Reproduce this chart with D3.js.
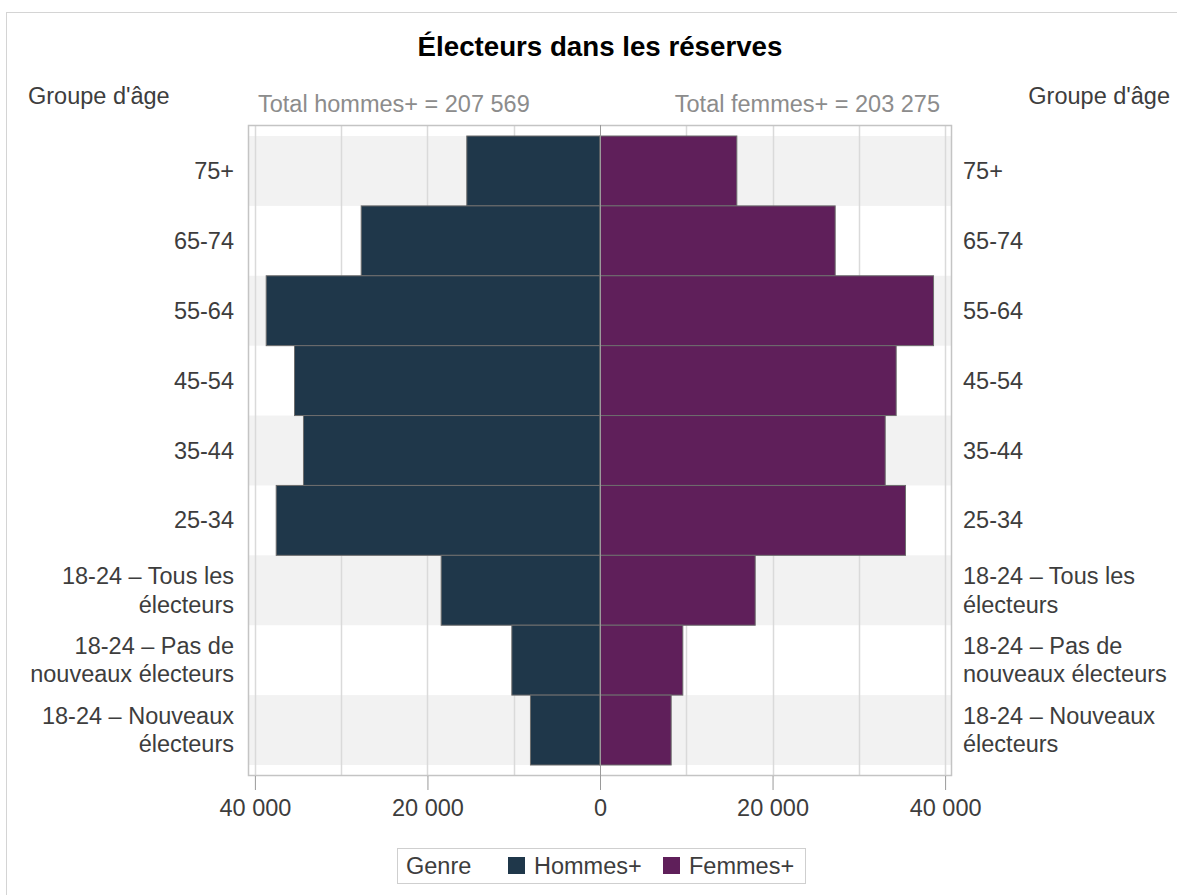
<!DOCTYPE html>
<html><head><meta charset="utf-8">
<script src="https://cdn.jsdelivr.net/npm/d3@7"></script>
<style>
html,body{margin:0;padding:0;background:#fff;}
text{font-family:"Liberation Sans",Arial,sans-serif;}
</style></head>
<body>
<svg id="chart" width="1177" height="895"></svg>
<script>
// ---- data ----
const categories = ["75+","65-74","55-64","45-54","35-44","25-34",
  "18-24 – Tous les électeurs","18-24 – Pas de nouveaux électeurs","18-24 – Nouveaux électeurs"];
const categoryLines = [["75+"],["65-74"],["55-64"],["45-54"],["35-44"],["25-34"],
  ["18-24 – Tous les","électeurs"],["18-24 – Pas de","nouveaux électeurs"],["18-24 – Nouveaux","électeurs"]];
const hommes = [15440, 27680, 38690, 35410, 34370, 37530, 18410, 10220, 8060];
const femmes = [15860, 27260, 38660, 34330, 33060, 35410, 17990, 9600, 8250];
const tickValues = [-40000, -20000, 0, 20000, 40000];
const gridValues = [-40000, -30000, -20000, -10000, 10000, 20000, 30000, 40000];
const seriesNames = ["Hommes+", "Femmes+"];
const totals = ["Total hommes+ = 207 569", "Total femmes+ = 203 275"];
const colors = ["#1f374a", "#5f1f5a"];

// ---- layout ----
const svg = d3.select("#chart");
const frame = {x0: 248, x1: 952, y0: 125, y1: 776};
const x = d3.scaleLinear().domain([-40800, 40800]).range([frame.x0, frame.x1]);
const y = d3.scaleBand().domain(categories).range([136, 765]).padding(0);
const loc = d3.formatLocale({decimal: ",", thousands: " ", grouping: [3], currency: ["", ""]});
const fmt = loc.format(",d");
const FS = 23.5;
const TXT = "#3d3d3d";

// outer border
svg.append("rect").attr("x", 6.5).attr("y", 12.5).attr("width", 1200).attr("height", 900)
  .attr("fill", "none").attr("stroke", "#d4d4d4");

// bands
svg.append("g").selectAll("rect").data(categories.filter((d, i) => i % 2 === 0)).join("rect")
  .attr("x", frame.x0 + 1).attr("width", frame.x1 - frame.x0 - 2)
  .attr("y", d => y(d)).attr("height", y.bandwidth())
  .attr("fill", "#f2f2f2");

// gridlines
svg.append("g").selectAll("line").data(gridValues).join("line")
  .attr("x1", d => Math.round(x(d)) + 0.5).attr("x2", d => Math.round(x(d)) + 0.5)
  .attr("y1", frame.y0).attr("y2", frame.y1)
  .attr("stroke", "#dadada").attr("stroke-width", 1.5);

// bars
const bars = svg.append("g");
bars.selectAll("rect.h").data(categories).join("rect").attr("class", "h")
  .attr("x", (d, i) => x(-hommes[i])).attr("width", (d, i) => x(0) - x(-hommes[i]))
  .attr("y", d => y(d)).attr("height", y.bandwidth())
  .attr("fill", colors[0]).attr("stroke", "#6d6d6d").attr("stroke-width", 1);
bars.selectAll("rect.f").data(categories).join("rect").attr("class", "f")
  .attr("x", x(0)).attr("width", (d, i) => x(femmes[i]) - x(0))
  .attr("y", d => y(d)).attr("height", y.bandwidth())
  .attr("fill", colors[1]).attr("stroke", "#6d6d6d").attr("stroke-width", 1);

// frame
svg.append("rect").attr("x", frame.x0 + 0.5).attr("y", frame.y0 + 0.5)
  .attr("width", frame.x1 - frame.x0 - 1).attr("height", frame.y1 - frame.y0 - 1)
  .attr("fill", "none").attr("stroke", "#c4c4c4").attr("stroke-width", 1.5);

// zero line
svg.append("line").attr("x1", Math.round(x(0)) + 0.5).attr("x2", Math.round(x(0)) + 0.5)
  .attr("y1", frame.y0).attr("y2", frame.y1 + 14)
  .attr("stroke", "#9a9a9a").attr("stroke-width", 1);

// x axis
const ax = svg.append("g").attr("transform", `translate(0,${frame.y1})`)
  .call(d3.axisBottom(x).tickValues(tickValues).tickSize(14).tickPadding(9)
    .tickFormat(d => fmt(Math.abs(d))));
ax.select(".domain").remove();
ax.selectAll(".tick line").attr("stroke", "#9a9a9a");
ax.selectAll(".tick text").attr("fill", TXT).style("font-size", FS + "px")
  .style("font-family", "'Liberation Sans', Arial, sans-serif");

// category labels left & right
function catLabels(xPos, anchor) {
  const g = svg.append("g");
  const t = g.selectAll("text").data(categories).join("text")
    .attr("text-anchor", anchor).attr("fill", TXT).style("font-size", FS + "px");
  t.each(function(d, i) {
    const lines = categoryLines[i];
    const cy = y(d) + y.bandwidth() / 2;
    const lh = 28.5;
    const startY = cy - (lines.length - 1) * lh / 2 + 8;
    d3.select(this).selectAll("tspan").data(lines).join("tspan")
      .attr("x", xPos).attr("y", (l, k) => startY + k * lh).text(l => l);
  });
}
catLabels(234, "end");
catLabels(963, "start");

// axis titles
svg.append("text").attr("x", 28).attr("y", 104).attr("fill", TXT)
  .style("font-size", FS + "px").text("Groupe d'âge");
svg.append("text").attr("x", 1170).attr("y", 104).attr("text-anchor", "end").attr("fill", TXT)
  .style("font-size", FS + "px").text("Groupe d'âge");

// totals
svg.append("text").attr("x", 258).attr("y", 112).attr("fill", "#8c8c8c")
  .style("font-size", FS + "px").text(totals[0]);
svg.append("text").attr("x", 940).attr("y", 112).attr("text-anchor", "end").attr("fill", "#8c8c8c")
  .style("font-size", FS + "px").text(totals[1]);

// title
svg.append("text").attr("x", 600).attr("y", 56).attr("text-anchor", "middle").attr("fill", "#000")
  .style("font-size", "27.7px").style("font-weight", "bold").text("Électeurs dans les réserves");

// legend
const lg = svg.append("g");
lg.append("rect").attr("x", 397.5).attr("y", 848.5).attr("width", 408).attr("height", 35)
  .attr("fill", "#fff").attr("stroke", "#cfcfcf");
lg.append("text").attr("x", 406).attr("y", 874).attr("fill", TXT)
  .style("font-size", FS + "px").text("Genre");
const legX = [508, 663];
seriesNames.forEach((s, i) => {
  lg.append("rect").attr("x", legX[i]).attr("y", 857).attr("width", 17).attr("height", 17)
    .attr("fill", colors[i]);
  lg.append("text").attr("x", legX[i] + 26).attr("y", 874).attr("fill", TXT)
    .style("font-size", FS + "px").text(s);
});
</script>
</body></html>
